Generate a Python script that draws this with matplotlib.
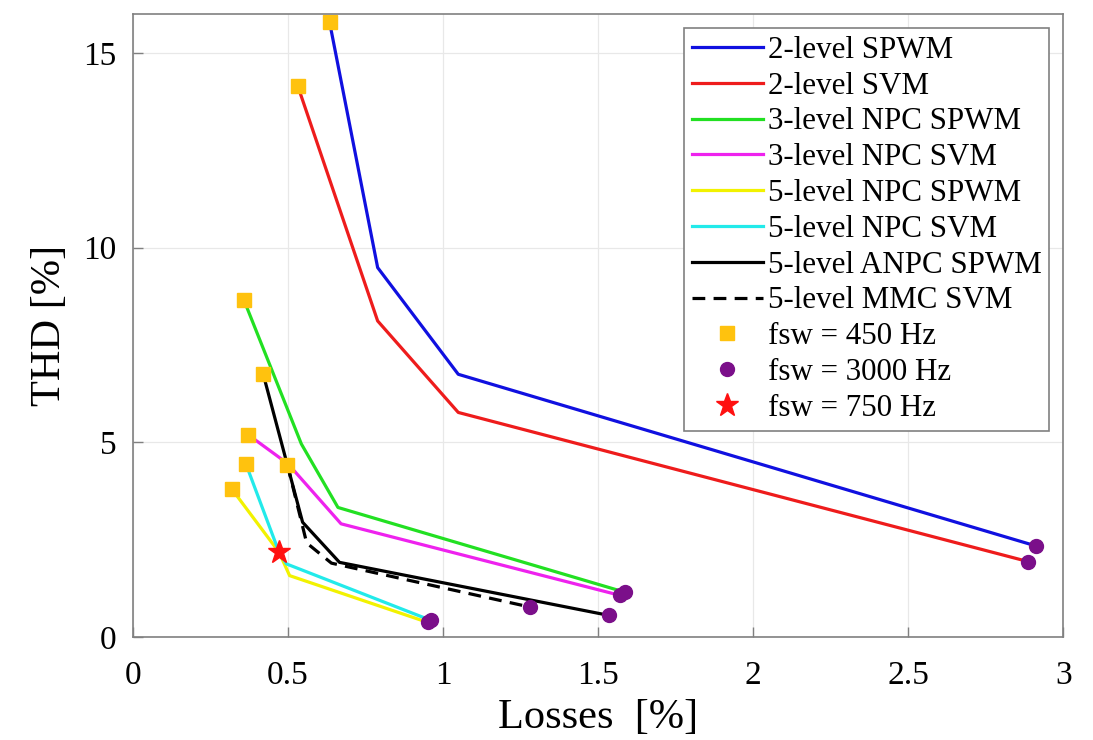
import numpy as np
import matplotlib
matplotlib.use('Agg')
import matplotlib.pyplot as plt

########################################################################################
# DATA: losses [%] vs THD [%] for each topology / modulation
########################################################################################

labels = ['2-level SPWM', '2-level SVM', '3-level NPC SPWM', '3-level NPC SVM',
          '5-level NPC SPWM', '5-level NPC SVM', '5-level ANPC SPWM', '5-level MMC SVM']

loss_2l_spwm   = [0.634, 0.789, 1.049, 2.913]
thd_2l_spwm    = [15.79, 9.49, 6.75, 2.34]

loss_2l_svm    = [0.532, 0.789, 1.049, 2.887]
thd_2l_svm     = [14.14, 8.12, 5.77, 1.94]

loss_3npc_spwm = [0.358, 0.543, 0.661, 1.588]
thd_3npc_spwm  = [8.65, 4.96, 3.33, 1.15]

loss_3npc_svm  = [0.371, 0.500, 0.671, 1.572]
thd_3npc_svm   = [5.20, 4.45, 2.91, 1.07]

loss_5npc_spwm = [0.318, 0.471, 0.505, 0.950]
thd_5npc_spwm  = [3.81, 2.18, 1.58, 0.38]

loss_5npc_svm  = [0.364, 0.471, 0.495, 0.961]
thd_5npc_svm   = [4.45, 2.18, 1.88, 0.43]

loss_5anpc     = [0.420, 0.547, 0.666, 1.534]
thd_5anpc      = [6.75, 2.95, 1.92, 0.56]

loss_5mmc      = [0.498, 0.560, 0.640, 1.282]
thd_5mmc       = [4.43, 2.42, 1.90, 0.77]

# operating point at fsw = 750 Hz
star_loss = [0.471]
star_thd  = [2.18]

########################################################################################
# PLOT
########################################################################################

plt.rcParams['font.family'] = 'Liberation Serif'

series = [(loss_2l_spwm, thd_2l_spwm, '#1010e0', '-'),
          (loss_2l_svm, thd_2l_svm, '#ee1c1c', '-'),
          (loss_3npc_spwm, thd_3npc_spwm, '#22e022', '-'),
          (loss_3npc_svm, thd_3npc_svm, '#ee22ee', '-'),
          (loss_5npc_spwm, thd_5npc_spwm, '#f2f200', '-'),
          (loss_5npc_svm, thd_5npc_svm, '#22eaea', '-'),
          (loss_5anpc, thd_5anpc, 'black', '-'),
          (loss_5mmc, thd_5mmc, 'black', '--')]

fig = plt.figure(figsize=(10.93, 7.40), dpi=100)
ax1 = fig.add_axes([0.1217, 0.139, 0.851, 0.842])

for (x, y, col, ls), lab in zip(series, labels):
    l, = ax1.plot(x, y, color=col, linestyle=ls, linewidth=2.3, label=lab)
    if ls == '--':
        l.set_dashes((4, 2.6))

# 450 Hz at the start of every curve, 3000 Hz at the end
sq_x = [s[0][0] for s in series]
sq_y = [s[1][0] for s in series]
dot_x = [s[0][-1] for s in series]
dot_y = [s[1][-1] for s in series]

ax1.plot(sq_x, sq_y, 's', color='#ffc20e', markersize=10.5, linestyle='none',
         label='fsw = 450 Hz')
ax1.plot(dot_x, dot_y, 'o', color='#7b0f8a', markersize=10, linestyle='none',
         label='fsw = 3000 Hz')
ax1.plot(star_loss, star_thd, '*', color='#ff1010', markersize=17, linestyle='none',
         label='fsw = 750 Hz')

ax1.set_xlim(0, 3)
ax1.set_ylim(0, 16)
ax1.set_xticks([0, 0.5, 1, 1.5, 2, 2.5, 3])
ax1.set_xticklabels(['0', '0.5', '1', '1.5', '2', '2.5', '3'])
ax1.set_yticks([0, 5, 10, 15])

ax1.grid(True, color='0.91', linewidth=0.9)
ax1.set_axisbelow(True)
for sp in ax1.spines.values():
    sp.set_color('0.5')
    sp.set_linewidth(1.2)
ax1.tick_params(direction='in', length=7, width=1.0, color='0.5',
                labelsize=24, top=False, right=False)
ax1.tick_params(axis='x', pad=17)
ax1.tick_params(axis='y', pad=12)

ax1.set_xlabel('Losses  [%]', fontsize=30.5, labelpad=5)
ax1.set_ylabel('THD [%]', fontsize=30.5, labelpad=10)

leg = ax1.legend(loc='upper right', fontsize=22.3, handlelength=2.3,
                 handletextpad=0.15, labelspacing=0.22, borderpad=0.25,
                 borderaxespad=0.45, fancybox=False, framealpha=1.0)
leg.get_frame().set_edgecolor('0.5')
leg.get_frame().set_linewidth(1.2)

fig.savefig('out.png', dpi=100)
